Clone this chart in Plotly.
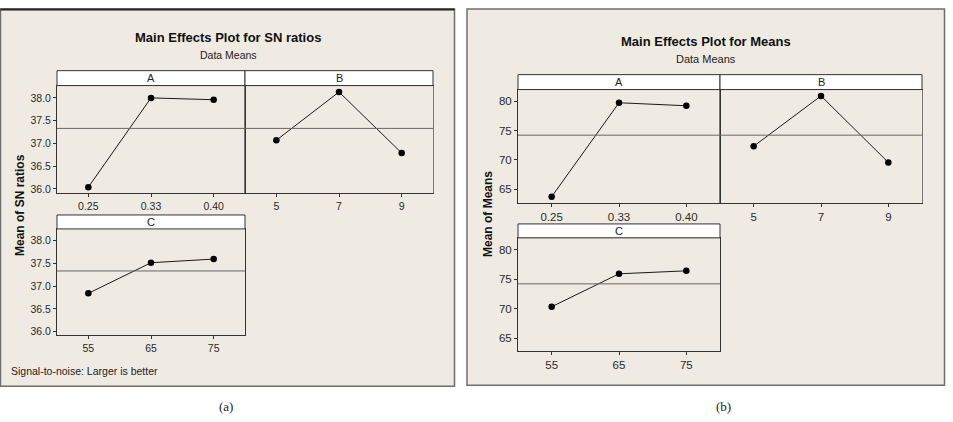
import plotly.graph_objects as go

# ---------------- data ----------------
factors = ["A", "B", "C"]
levels_A = ["0.25", "0.33", "0.40"]
levels_B = ["5", "7", "9"]
levels_C = ["55", "65", "75"]

sn_A = [36.04, 38.00, 37.96]
sn_B = [37.07, 38.13, 36.79]
sn_C = [36.84, 37.51, 37.59]
sn_mean = 37.33
sn_ticks = [36.0, 36.5, 37.0, 37.5, 38.0]
sn_ticktext = ["36.0", "36.5", "37.0", "37.5", "38.0"]

mean_A = [63.70, 79.73, 79.22]
mean_B = [72.31, 80.90, 69.54]
mean_C = [70.33, 75.90, 76.40]
mean_mean = 74.2
mean_ticks = [65, 70, 75, 80]

# ---------------- layout helpers ----------------
W, H = 953, 422
def px(x):
    return x / W
def py(y):
    return 1 - y / H

BG = "#EFEBE3"
FRAME = "#333333"
SANS = "Liberation Sans, Arial, sans-serif"
TICKC = "#2a2a2a"

fig = go.Figure()

panels = [
    (1, 57, 245, 86, 194, 71, "A", levels_A, sn_A, [35.91, 38.27], sn_mean, sn_ticks, sn_ticktext, True, 10.5),
    (2, 245, 433, 86, 194, 71, "B", levels_B, sn_B, [35.91, 38.27], sn_mean, sn_ticks, sn_ticktext, False, 10.5),
    (3, 57, 245, 230, 337, 216, "C", levels_C, sn_C, [35.92, 38.25], sn_mean, sn_ticks, sn_ticktext, True, 10.5),
    (4, 518, 720, 90, 204, 75, "A", levels_A, mean_A, [62.62, 81.98], mean_mean, mean_ticks, [str(t) for t in mean_ticks], True, 11.5),
    (5, 720, 922, 90, 204, 75, "B", levels_B, mean_B, [62.62, 81.98], mean_mean, mean_ticks, [str(t) for t in mean_ticks], False, 11.5),
    (6, 518, 720, 239, 353, 225, "C", levels_C, mean_C, [62.8, 81.97], mean_mean, mean_ticks, [str(t) for t in mean_ticks], True, 11.5),
]

shapes = []
annotations = []

# outer panel boxes
shapes.append(dict(type="rect", xref="paper", yref="paper", x0=px(0.5), x1=px(454.5), y0=py(388), y1=py(9),
                   fillcolor=BG, line=dict(color="#6e6e6e", width=1.5), layer="below"))
shapes.append(dict(type="line", xref="paper", yref="paper", x0=px(0.5), x1=px(454.5), y0=py(9.5), y1=py(9.5),
                   line=dict(color="#222222", width=2), layer="below"))
shapes.append(dict(type="rect", xref="paper", yref="paper", x0=px(467), x1=px(944.5), y0=py(387), y1=py(9),
                   fillcolor=BG, line=dict(color="#6e6e6e", width=1.5), layer="below"))

for (i, x0, x1, yt, yb, st, lab, cats, vals, yr, mval, ticks, ticktext, showy, fsz) in panels:
    sfx = "" if i == 1 else str(i)
    xa = "x" + sfx
    ya = "y" + sfx
    fig.add_trace(go.Scatter(
        x=cats, y=vals, xaxis=xa, yaxis=ya, mode="lines+markers",
        line=dict(color="#1a1a1a", width=1),
        marker=dict(color="#000000", size=6.5),
        showlegend=False, hoverinfo="x+y"))
    fig.layout["xaxis" + sfx] = dict(
        domain=[px(x0), px(x1)], anchor=ya, type="category", range=[-0.5, 2.5],
        showline=True, mirror=True, linecolor=FRAME, linewidth=1,
        ticks="outside", ticklen=3, tickcolor=FRAME,
        showgrid=False, zeroline=False, fixedrange=True,
        tickfont=dict(family=SANS, size=fsz, color=TICKC))
    fig.layout["yaxis" + sfx] = dict(
        domain=[py(yb), py(yt)], anchor=xa, range=yr,
        showline=True, mirror=True, linecolor=FRAME if showy else "#777777", linewidth=1,
        ticks="outside" if showy else "", ticklen=3, tickcolor=FRAME,
        tickvals=ticks, ticktext=ticktext, showticklabels=showy,
        showgrid=False, zeroline=False, fixedrange=True,
        tickfont=dict(family=SANS, size=fsz, color=TICKC))
    shapes.append(dict(type="line", xref=xa + " domain", yref=ya, x0=0, x1=1, y0=mval, y1=mval,
                       line=dict(color="#666666", width=1)))
    shapes.append(dict(type="rect", xref="paper", yref="paper", x0=px(x0), x1=px(x1), y0=py(yt), y1=py(st),
                       fillcolor="white", line=dict(color=FRAME, width=1)))
    annotations.append(dict(text=lab, xref="paper", yref="paper", x=px((x0 + x1) / 2), y=py((yt + st) / 2),
                            showarrow=False, xanchor="center", yanchor="middle",
                            font=dict(family=SANS, size=11, color="#222222")))

def note(text, x, y, size, family=SANS, angle=0, xanchor="center", color="#222222"):
    annotations.append(dict(text=text, x=px(x), y=py(y), xref="paper", yref="paper", textangle=angle,
                            xanchor=xanchor, yanchor="middle", showarrow=False,
                            font=dict(family=family, size=size, color=color)))

note("<b>Main Effects Plot for SN ratios</b>", 228, 38, 13, color="#111111")
note("Data Means", 228, 55, 10.5)
note("<b>Mean of SN ratios</b>", 20, 206, 12, angle=-90, color="#111111")
note("Signal-to-noise: Larger is better", 9, 373, 10.5, xanchor="left")
note("<b>Main Effects Plot for Means</b>", 706, 42, 13, color="#111111")
note("Data Means", 706, 59, 11)
note("<b>Mean of Means</b>", 488, 215, 12, angle=-90, color="#111111")
note("(a)", 226, 408, 13, family="Liberation Serif, serif")
note("(b)", 723, 408, 13, family="Liberation Serif, serif")

fig.update_layout(
    width=W, height=H, margin=dict(l=0, r=0, t=0, b=0),
    paper_bgcolor="white", plot_bgcolor="white",
    shapes=shapes, annotations=annotations, showlegend=False)

fig.write_html("out.html", config={"displayModeBar": False})
